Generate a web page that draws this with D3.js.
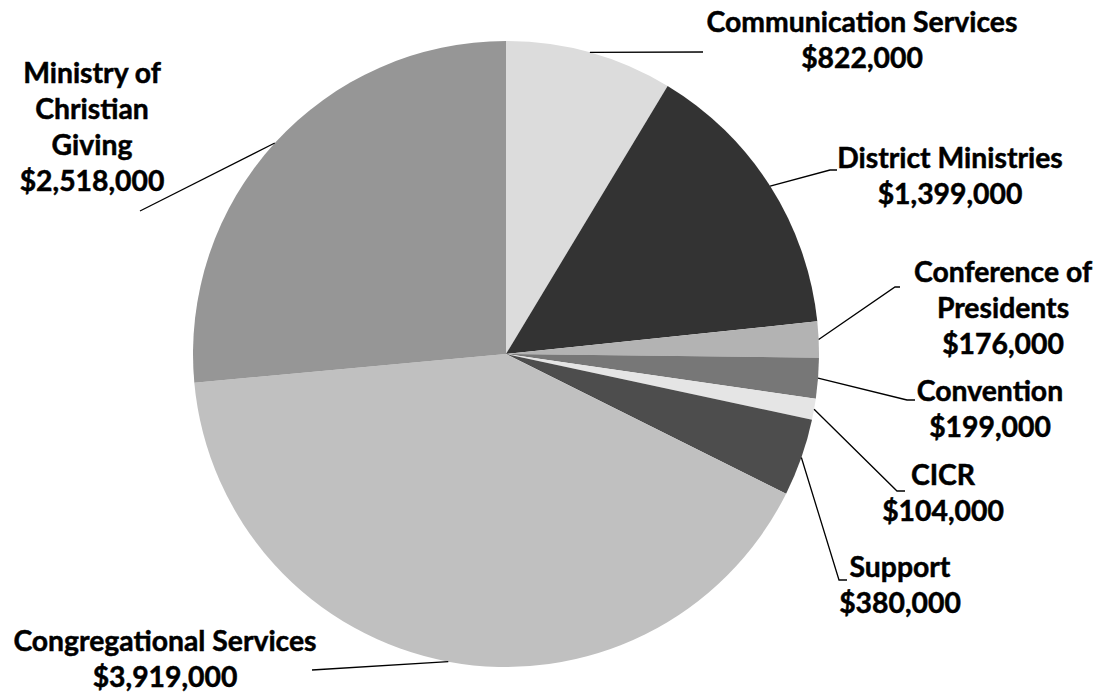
<!DOCTYPE html>
<html>
<head>
<meta charset="utf-8">
<script src="https://cdn.jsdelivr.net/npm/d3@7"></script>
<style>
  html, body { margin: 0; padding: 0; background: #fff; }
  svg { display: block; }
  text { font-family: Lato, "Open Sans", sans-serif; font-weight: bold; fill: #000; stroke: #000; stroke-width: 0.5px; }
</style>
</head>
<body>
<svg id="chart" width="1102" height="694"></svg>
<script>
// ---- data ----
const categories = ["Communication Services", "District Ministries", "Conference of Presidents",
  "Convention", "CICR", "Support", "Congregational Services", "Ministry of Christian Giving"];
const values = [822000, 1399000, 176000, 199000, 104000, 380000, 3919000, 2518000];
const labelLines = [
  ["Communication Services"],
  ["District Ministries"],
  ["Conference of", "Presidents"],
  ["Convention"],
  ["CICR"],
  ["Support"],
  ["Congregational Services"],
  ["Ministry of", "Christian", "Giving"]
];
const colors = ["#dcdcdc", "#333333", "#b3b3b3", "#777777", "#e5e5e5", "#4d4d4d", "#c0c0c0", "#969696"];

// ---- layout ----
const W = 1102, H = 694;
const cx = 506, cy = 354, R = 313;
const lineH = 36;
// label block: center x, first baseline y; leader: elbow and end points
const labelPos = [
  {x: 862, y: 32,  pts: [[703, 52]]},
  {x: 950, y: 168, pts: [[830, 170], [837, 170]]},
  {x: 1003, y: 282, pts: [[895, 287], [900, 287]]},
  {x: 990, y: 401, pts: [[907, 400], [915, 400]]},
  {x: 943, y: 485, pts: [[897, 491], [905, 491]]},
  {x: 900, y: 577, pts: [[839, 580], [847, 580]]},
  {x: 165, y: 651, pts: [[312, 670]]},
  {x: 92,  y: 83,  pts: [[140, 211]]}
];

const svg = d3.select("#chart");
const fmt = v => "$" + d3.format(",")(v);

// font size fitted so the widest label matches the reference width
const probe = svg.append("text").attr("font-size", 100).text("Communication Services");
const fs = 100 * 311 / probe.node().getComputedTextLength();
probe.remove();

const pie = d3.pie().value(d => d).sort(null);
const arcs = pie(values);
const arc = d3.arc().innerRadius(0).outerRadius(R);
const g = svg.append("g").attr("transform", `translate(${cx},${cy})`);

g.selectAll("path.slice").data(arcs).join("path")
  .attr("class", "slice")
  .attr("d", arc)
  .attr("fill", (d, i) => colors[i]);

// leader lines
arcs.forEach((d, i) => {
  const a = (d.startAngle + d.endAngle) / 2;
  const start = [cx + R * Math.sin(a), cy - R * Math.cos(a)];
  const pts = [start].concat(labelPos[i].pts);
  svg.append("path")
    .attr("d", d3.line()(pts))
    .attr("fill", "none")
    .attr("stroke", "#000")
    .attr("stroke-width", 1.3);
});

// labels
labelLines.forEach((lines, i) => {
  const all = lines.concat([fmt(values[i])]);
  const t = svg.append("text")
    .attr("text-anchor", "middle")
    .attr("font-size", fs);
  all.forEach((s, k) => {
    t.append("tspan")
      .attr("x", labelPos[i].x)
      .attr("y", labelPos[i].y + k * lineH)
      .text(s);
  });
});
</script>
</body>
</html>
